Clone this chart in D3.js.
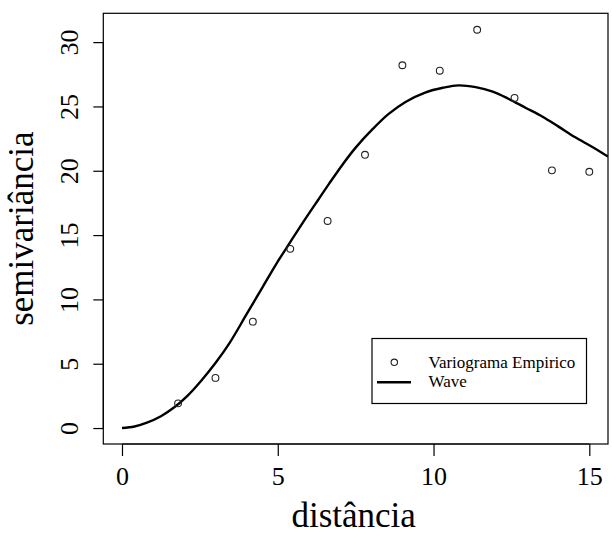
<!DOCTYPE html>
<html>
<head>
<meta charset="utf-8">
<script src="https://cdn.jsdelivr.net/npm/d3@7"></script>
<style>
  html, body { margin: 0; padding: 0; background: #fff; }
  svg { display: block; font-family: "Liberation Serif", "Times New Roman", serif; }
</style>
</head>
<body>
<svg id="chart" width="612" height="535"></svg>
<script>
// Empirical semivariogram (lag distance, semivariance)
const lagDistance = [1.8, 3.0, 4.2, 5.4, 6.6, 7.8, 9.0, 10.2, 11.4, 12.6, 13.8, 15.0];
const semivariance = [1.92, 3.9, 8.27, 13.93, 16.1, 21.24, 28.2, 27.78, 30.96, 25.66, 20.03, 19.92];

// Fitted wave model, sampled along distance
const waveDistance = [0, 0.4, 0.8, 1.25, 1.7, 2.1, 2.55, 3.0, 3.45, 4.0, 4.5, 4.95, 5.4, 5.8, 6.3, 6.65,
  7.1, 7.5, 8.05, 8.55, 9.1, 9.75, 10.3, 10.8, 11.35, 11.9, 12.4, 12.95, 13.5, 14.0, 14.55, 15.1, 15.6];
const waveGamma = [0, 0.12, 0.42, 0.92, 1.65, 2.5, 3.7, 5.05, 6.6, 8.85, 10.9, 12.75, 14.45, 15.95, 17.75, 19.0,
  20.55, 21.8, 23.25, 24.4, 25.35, 26.1, 26.45, 26.64, 26.5, 26.15, 25.6, 24.9, 24.2, 23.45, 22.6, 21.85, 21.1];

const xTicks = [0, 5, 10, 15];
const yTicks = [0, 5, 10, 15, 20, 25, 30];
const legendLabels = ["Variograma Empirico", "Wave"];

const svg = d3.select("#chart");
const plot = { left: 103.3, right: 608, top: 13.3, bottom: 444 };

// R-style axis limits: data range widened by 4% on each side
const xs = d3.scaleLinear().domain([-0.6, 15.6]).range([plot.left, plot.right]);
const ys = d3.scaleLinear().domain([-1.24, 32.24]).range([plot.bottom, plot.top]);

// Clip region for the model curve
svg.append("defs").append("clipPath").attr("id", "plotClip")
  .append("rect")
  .attr("x", plot.left).attr("y", plot.top)
  .attr("width", plot.right - plot.left).attr("height", plot.bottom - plot.top);

// Fitted curve
const line = d3.line()
  .x((d, i) => xs(waveDistance[i]))
  .y((d, i) => ys(waveGamma[i]))
  .curve(d3.curveCatmullRom.alpha(0.5));
svg.append("path")
  .attr("clip-path", "url(#plotClip)")
  .attr("d", line(waveDistance))
  .attr("fill", "none")
  .attr("stroke", "#000")
  .attr("stroke-width", 2.4)
  .attr("stroke-linejoin", "round");

// Empirical points
svg.append("g").selectAll("circle")
  .data(lagDistance)
  .join("circle")
  .attr("cx", (d) => xs(d))
  .attr("cy", (d, i) => ys(semivariance[i]))
  .attr("r", 3.4)
  .attr("fill", "none")
  .attr("stroke", "#222")
  .attr("stroke-width", 1.1);

// Plot frame
svg.append("rect")
  .attr("x", plot.left).attr("y", plot.top)
  .attr("width", plot.right - plot.left).attr("height", plot.bottom - plot.top)
  .attr("fill", "none").attr("stroke", "#000").attr("stroke-width", 1.2);

// X axis
const xAxis = d3.axisBottom(xs).tickValues(xTicks).tickSize(12).tickPadding(8).tickFormat(d3.format("d"));
const gx = svg.append("g").attr("transform", `translate(0,${plot.bottom})`).call(xAxis);
gx.select(".domain").attr("d", `M${xs(0)},0H${xs(15)}`).attr("stroke", "#000").attr("stroke-width", 1.2);
gx.selectAll(".tick line").attr("stroke", "#000").attr("stroke-width", 1.2);
gx.selectAll(".tick text")
  .attr("font-family", "Liberation Serif, serif")
  .attr("font-size", 26)
  .attr("fill", "#000")
  .attr("dy", null)
  .attr("y", 41);

// Y axis with labels parallel to the axis
const yAxis = d3.axisLeft(ys).tickValues(yTicks).tickSize(10).tickFormat(d3.format("d"));
const gy = svg.append("g").attr("transform", `translate(${plot.left},0)`).call(yAxis);
gy.select(".domain").attr("d", `M0,${ys(0)}V${ys(30)}`).attr("stroke", "#000").attr("stroke-width", 1.2);
gy.selectAll(".tick line").attr("stroke", "#000").attr("stroke-width", 1.2);
gy.selectAll(".tick text")
  .attr("font-family", "Liberation Serif, serif")
  .attr("font-size", 26)
  .attr("fill", "#000")
  .attr("x", null).attr("dy", null)
  .attr("text-anchor", "middle")
  .attr("transform", "translate(-25,0) rotate(-90)");

// Axis titles
svg.append("text")
  .attr("x", (plot.left + plot.right) / 2 - 2)
  .attr("y", 527)
  .attr("text-anchor", "middle")
  .attr("font-size", 35)
  .text("distância");

svg.append("text")
  .attr("transform", `translate(33,${(plot.top + plot.bottom) / 2}) rotate(-90)`)
  .attr("text-anchor", "middle")
  .attr("font-size", 35)
  .text("semivariância");

// Legend
const lg = svg.append("g");
lg.append("rect")
  .attr("x", 372).attr("y", 338.5).attr("width", 214.5).attr("height", 65)
  .attr("fill", "#fff").attr("stroke", "#000").attr("stroke-width", 1.2);
lg.append("circle")
  .attr("cx", 394.3).attr("cy", 362.3).attr("r", 3.2)
  .attr("fill", "none").attr("stroke", "#222").attr("stroke-width", 1.1);
lg.append("line")
  .attr("x1", 377).attr("x2", 411).attr("y1", 382.3).attr("y2", 382.3)
  .attr("stroke", "#000").attr("stroke-width", 2.4);
lg.selectAll("text.lab")
  .data(legendLabels)
  .join("text")
  .attr("class", "lab")
  .attr("x", 428.5)
  .attr("y", (d, i) => 367.5 + i * 19.5)
  .attr("font-size", 17)
  .text((d) => d);
</script>
</body>
</html>
